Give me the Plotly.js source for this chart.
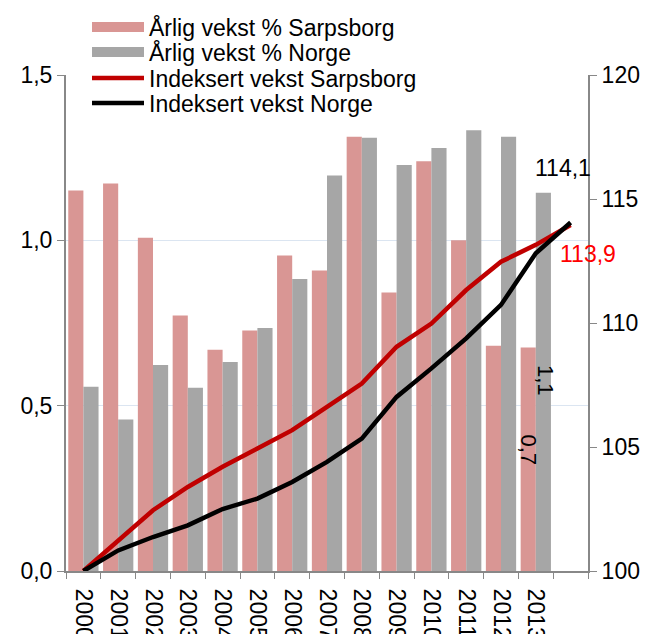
<!DOCTYPE html>
<html><head><meta charset="utf-8">
<script src="https://cdn.plot.ly/plotly-3.0.1.min.js"></script>
<style>html,body{margin:0;padding:0;background:#fff}#chart{width:652px;height:634px}</style>
</head><body><div id="chart"></div>
<script>
const years = ['2000','2001','2002','2003','2004','2005','2006','2007','2008','2009','2010','2011','2012','2013'];
const categories = years.concat([' ']);
const growthSarpsborg = [1.151,1.172,1.008,0.773,0.669,0.727,0.954,0.909,1.313,0.842,1.239,1.000,0.681,0.676];
const growthNorge = [0.557,0.458,0.623,0.554,0.632,0.735,0.883,1.196,1.310,1.228,1.279,1.333,1.313,1.144];
const indexSarpsborg = [100,101.25,102.45,103.39,104.2,104.94,105.68,106.62,107.56,109.04,109.98,111.33,112.47,113.15,113.95];
const indexNorge = [100,100.83,101.37,101.84,102.5,102.92,103.59,104.4,105.34,107.02,108.17,109.38,110.73,112.81,114.05];
const names = ['Årlig vekst % Sarpsborg','Årlig vekst % Norge','Indeksert vekst Sarpsborg','Indeksert vekst Norge'];
const colors = ['#D99694','#A6A6A6','#C00000','#000000'];

const traces = [
  {type:'scatter',mode:'lines',x:[null],y:[null],name:names[0],legend:'legend',line:{color:colors[0],width:10},hoverinfo:'skip'},
  {type:'scatter',mode:'lines',x:[null],y:[null],name:names[1],legend:'legend2',line:{color:colors[1],width:10},hoverinfo:'skip'},
  {type:'bar',x:years,y:growthSarpsborg,name:names[0],marker:{color:colors[0]},showlegend:false},
  {type:'bar',x:years,y:growthNorge,name:names[1],marker:{color:colors[1]},showlegend:false},
  {type:'scatter',mode:'lines',x:categories,y:indexSarpsborg,name:names[2],legend:'legend3',yaxis:'y2',line:{color:colors[2],width:4.5},cliponaxis:false},
  {type:'scatter',mode:'lines',x:categories,y:indexNorge,name:names[3],legend:'legend4',yaxis:'y2',line:{color:colors[3],width:4.5},cliponaxis:false}
];

function legendRow(yPx){
  return {xref:'container',yref:'container',x:87/652,y:1-yPx/634,xanchor:'left',yanchor:'middle',
          bgcolor:'rgba(0,0,0,0)',font:{size:23},itemwidth:52,borderwidth:0};
}
const axisCommon = {ticks:'outside',tickcolor:'#888',showline:true,linecolor:'#888',linewidth:2,zeroline:false};
const layout = {
  width:652,height:634,
  margin:{l:66,r:64,t:75,b:63,autoexpand:false},
  paper_bgcolor:'#fff',plot_bgcolor:'#fff',
  font:{family:'"Liberation Sans", Arial, sans-serif',size:23,color:'#000'},
  separators:', ',
  barmode:'group',bargap:0.13,bargroupgap:0,
  showlegend:true,
  legend:legendRow(27),
  legend2:legendRow(52),
  legend3:legendRow(78),
  legend4:legendRow(103),
  xaxis:Object.assign({},axisCommon,{type:'category',categoryorder:'array',categoryarray:categories,tickson:'boundaries',ticklen:6,tickangle:90,ticklabelstandoff:11,showgrid:false,range:[-0.5,14.5]}),
  yaxis:Object.assign({},axisCommon,{range:[0,1.5],dtick:0.5,tickformat:'.1f',ticklen:7,showgrid:true,gridcolor:'#dbe5f1',gridwidth:1.5}),
  yaxis2:Object.assign({},axisCommon,{overlaying:'y',side:'right',range:[100,120],dtick:5,ticklen:7,showgrid:false}),
  annotations:[
    {x:13.78,y:116.25,xref:'x',yref:'y2',text:'114,1',showarrow:false,font:{size:23,color:'#000'}},
    {x:14.5,y:112.78,xref:'x',yref:'y2',text:'113,9',showarrow:false,font:{size:23,color:'#FF0000'}},
    {x:13.26,y:0.575,xref:'x',yref:'y',text:'1,1',textangle:90,showarrow:false,font:{size:22,color:'#000'}},
    {x:12.79,y:0.366,xref:'x',yref:'y',text:'0,7',textangle:90,showarrow:false,font:{size:22,color:'#000'}}
  ]
};
Plotly.newPlot('chart',traces,layout,{displayModeBar:false,staticPlot:true});
</script></body></html>
